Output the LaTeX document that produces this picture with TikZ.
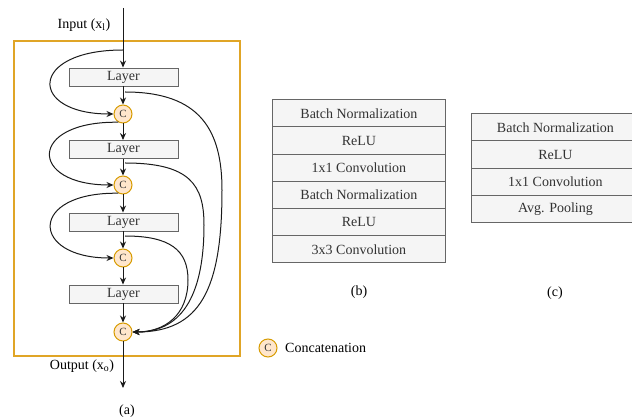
\documentclass[tikz,border=0pt]{standalone}
\usepackage{fontspec}
\setmainfont{Liberation Serif}
\usetikzlibrary{arrows.meta}

\definecolor{frameorange}{HTML}{E0A526}
\definecolor{catfill}{HTML}{FFE6CC}
\definecolor{catdraw}{HTML}{D79B00}
\definecolor{boxfill}{HTML}{F5F5F5}
\definecolor{boxdraw}{HTML}{666666}
\definecolor{boxtext}{HTML}{333333}
\definecolor{wire}{HTML}{1A1A1A}

\begin{document}
\begin{tikzpicture}[x=1pt,y=-1pt,
  font=\fontsize{14}{16}\selectfont,
  layerbox/.style={draw=boxdraw,fill=boxfill,text=boxtext,line width=0.9pt,
    minimum width=109pt,minimum height=18pt,inner sep=0pt},
  cat/.style={circle,draw=catdraw,fill=catfill,line width=1pt,minimum size=18pt,
    inner sep=0pt,text=boxtext,font=\fontsize{11}{11}\selectfont},
  cell/.style={draw=boxdraw,fill=boxfill,text=boxtext,line width=0.9pt,
    anchor=north west,inner sep=0pt},
  flow/.style={draw=wire,line width=1pt,-{Stealth[length=7pt,width=6pt]}},
  lbl/.style={text=black,inner sep=0pt}]

\useasboundingbox (0,0) rectangle (632,419);

% dense block frame
\draw[frameorange,line width=2pt] (14,41) rectangle (240,356);

% layers and concatenation nodes
\node[layerbox] (L1) at (123.5,77) {Layer};
\node[cat] (C1) at (123,114) {C};
\node[layerbox] (L2) at (123.5,149.5) {Layer};
\node[cat] (C2) at (123,185) {C};
\node[layerbox] (L3) at (123.5,222) {Layer};
\node[cat] (C3) at (123,258) {C};
\node[layerbox] (L4) at (123.5,294) {Layer};
\node[cat] (C4) at (123,332) {C};

\coordinate (in) at (123,8);
\coordinate (out) at (123,388);
\coordinate (tap0) at (123,50);
\coordinate (tap1) at (125,92);
\coordinate (tap2) at (125,163);
\coordinate (tap3) at (125,236);

% main path
\draw[flow] (in) -- (L1.north -| in);
\draw[flow] (L1.south -| C1) -- (C1.north);
\draw[flow] (C1.south) -- (L2.north -| C1);
\draw[flow] (L2.south -| C2) -- (C2.north);
\draw[flow] (C2.south) -- (L3.north -| C2);
\draw[flow] (L3.south -| C3) -- (C3.north);
\draw[flow] (C3.south) -- (L4.north -| C3);
\draw[flow] (L4.south -| C4) -- (C4.north);
\draw[flow] (C4.south) -- (out);

% skip connections on the left
\draw[flow] (tap0) .. controls (28,50) and (28,114) .. (C1.west);
\draw[flow] (C1.240) .. controls (28,121) and (28,185) .. (C2.west);
\draw[flow] (C2.240) .. controls (28,192) and (30,258) .. (C3.west);

% skip connections into the last concatenation
\draw[flow] (tap1) .. controls (200,92) and (222,130) .. (222,190)
  .. controls (222,290) and (200,332) .. (C4.east);
\draw[flow] (tap2) .. controls (190,163) and (204,185) .. (204,225)
  .. controls (204,290) and (185,332) .. (C4.east);
\draw[flow] (tap3) .. controls (170,236) and (188,250) .. (188,280)
  .. controls (188,315) and (165,332) .. (C4.east);

% labels of panel (a)
\node[lbl] (inlbl) at (84,25) {Input (x\textsubscript{l})};
\node[lbl] (outlbl) at (82,366) {Output (x\textsubscript{o})};
\node[lbl] (capa) at (127,411) {(a)};

% legend
\node[cat] (legc) at (268,348) {C};
\node[lbl,anchor=west] (legt) at (285,348) {Concatenation};

% panel (b): bottleneck layer
\foreach \t [count=\i from 0] in {Batch Normalization,ReLU,1x1 Convolution,Batch Normalization,ReLU,3x3 Convolution}{
  \node[cell,minimum width=173pt,minimum height=27.2pt] (b\i) at (272,{99.3+27.2*\i}) {\t};
}
\node[lbl] (capb) at (359,292) {(b)};

% panel (c): transition layer
\foreach \t [count=\i from 0] in {Batch Normalization,ReLU,1x1 Convolution,Avg. Pooling}{
  \node[cell,minimum width=168pt,minimum height=27.2pt] (c\i) at (471,{113.3+27.2*\i}) {\t};
}
\node[lbl] (capc) at (555,293) {(c)};

\end{tikzpicture}
\end{document}
